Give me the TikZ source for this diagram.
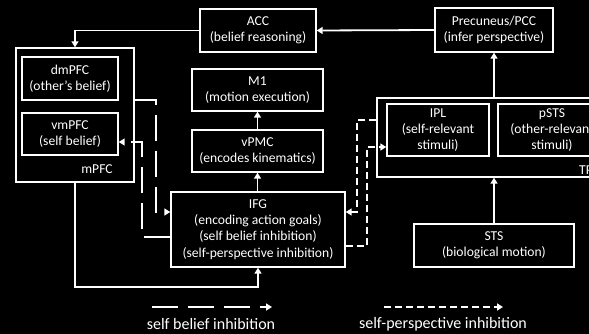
\documentclass[tikz,border=0pt]{standalone}
\usepackage{fontspec}
\setmainfont{Carlito}
\usetikzlibrary{arrows.meta}
\begin{document}
\begin{tikzpicture}[x=1pt,y=-1pt,
  box/.style={draw=white,line width=1.4pt,text=white,align=center,inner sep=0pt,
    font=\fontsize{13.6}{16.3}\selectfont},
  tag/.style={text=white,inner sep=0pt,font=\fontsize{13.6}{15}\selectfont},
  link/.style={draw=white,line width=1.8pt,-{Triangle[length=6pt,width=7pt]}},
  belief/.style={link,dash pattern=on 26pt off 10pt},
  persp/.style={link,dash pattern=on 7pt off 4pt},
  legend/.style={text=white,inner sep=0pt,font=\fontsize{16}{18}\selectfont}]
\fill[black] (0,0) rectangle (589,334);
\useasboundingbox (0,0) rectangle (589,334);
\clip (0,0) rectangle (589,334);

% top row
\node[box,minimum width=116pt,minimum height=43pt] (acc) at (258,30.5) {ACC\\(belief reasoning)};
\node[box,minimum width=118pt,minimum height=44pt] (pcc) at (494,30) {Precuneus/PCC\\(infer perspective)};

% medial prefrontal cortex
\node[box,minimum width=118pt,minimum height=134pt] (mpfc) at (75,115) {};
\node[box,minimum width=96pt,minimum height=43pt] (dmpfc) at (70,78.5) {dmPFC\\(other’s belief)};
\node[box,minimum width=96pt,minimum height=42pt] (vmpfc) at (70,134) {vmPFC\\(self belief)};
\node[tag] (mpfclabel) at (97,169) {mPFC};

% motor chain
\node[box,minimum width=131pt,minimum height=42pt] (m1) at (257.5,90) {M1\\(motion execution)};
\node[box,minimum width=131pt,minimum height=42pt] (vpmc) at (257.5,151) {vPMC\\(encodes kinematics)};
\node[box,minimum width=174pt,minimum height=75pt] (ifg) at (258,229.5)
  {IFG\\(encoding action goals)\\(self belief inhibition)\\(self-perspective inhibition)};

% temporo-parietal junction
\node[box,minimum width=238pt,minimum height=79pt] (tpj) at (496,137.5) {};
\node[box,minimum width=102pt,minimum height=52pt] (ipl) at (438,130) {IPL\\(self-relevant\\stimuli)};
\node[box,minimum width=108pt,minimum height=52pt] (psts) at (552,130) {pSTS\\(other-relevant\\stimuli)};
\node[tag,anchor=west] (tpjlabel) at (579,170) {TPJ};
\node[box,minimum width=160pt,minimum height=43pt] (sts) at (494,245.5) {STS\\(biological motion)};

% solid pathways
\draw[link] (pcc.west) -- (acc.east);
\draw[link] (acc.west) -| (mpfc.north);
\draw[link] (vpmc.north) -- (m1.south);
\draw[link] (ifg.north -| vpmc.north) -- (vpmc.south);
\coordinate (mbot) at (75,287);
\draw[link] (mpfc.south) -- (mbot) -| (ifg.south);
\draw[link] (sts.north) -- (sts.north |- tpj.south);
\draw[link] (pcc.south |- tpj.north) -- (pcc.south);

% self belief inhibition
\coordinate (b1) at (156,100);
\coordinate (b2) at (156,212);
\draw[belief] (mpfc.east |- b1) -- (b1) -- (b2) -- (ifg.west |- b2);
\coordinate (b3) at (142,237);
\coordinate (b4) at (142,142);
\draw[belief] (ifg.west |- b3) -- (b3) -- (b4) -- (vmpfc.east |- b4);

% self-perspective inhibition
\coordinate (p1) at (357,120);
\coordinate (p2) at (357,212);
\draw[persp] (tpj.west |- p1) -- (p1) -- (p2) -- (ifg.east |- p2);
\coordinate (p3) at (367,246);
\coordinate (p4) at (367,147);
\draw[persp] (ifg.east |- p3) -- (p3) -- (p4) -- (ipl.west |- p4);

% legend
\coordinate (lb1) at (152,307);
\coordinate (lb2) at (272,307);
\draw[belief] (lb1) -- (lb2);
\node[legend] (lbt) at (211,324) {self belief inhibition};
\coordinate (lp1) at (384,307);
\coordinate (lp2) at (503,307);
\draw[persp] (lp1) -- (lp2);
\node[legend] (lpt) at (443,324) {self-perspective inhibition};
\end{tikzpicture}
\end{document}
